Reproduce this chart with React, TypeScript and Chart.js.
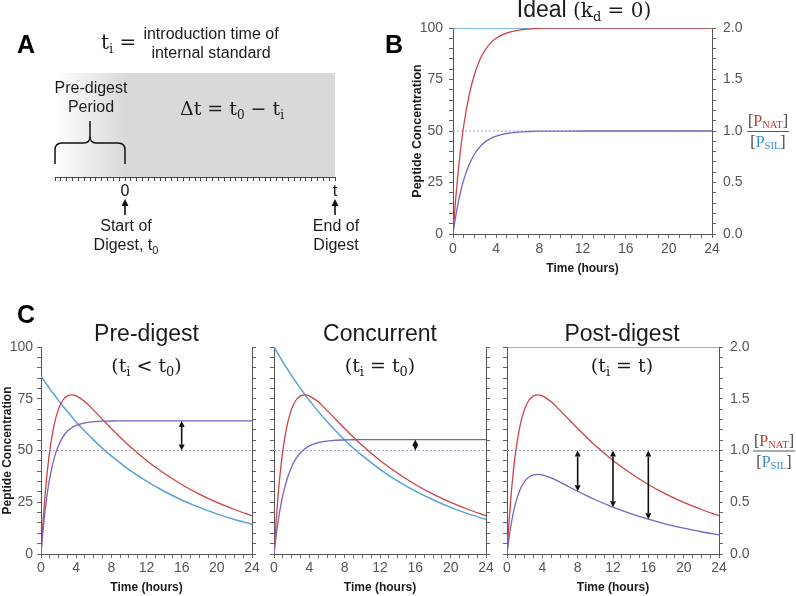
import React, { useEffect, useRef } from 'react';
import { Chart, registerables } from 'chart.js';
Chart.register(...registerables);

// ---------------- data ----------------
const times = [0, 0.25, 0.5, 0.75, 1, 1.5, 2, 2.5, 3, 3.5, 4, 5, 6, 7, 8, 9, 10, 12, 14, 16, 18, 20, 22, 24];

// Panel B (ideal, kd = 0)
const natIdeal = [0, 17.1, 31.3, 43.0, 52.8, 67.5, 77.7, 84.7, 89.5, 92.8, 95.0, 97.6, 98.9, 99.5, 99.8, 99.9, 99.9, 100, 100, 100, 100, 100, 100, 100];
const silIdeal = [100, 100, 100, 100, 100, 100, 100, 100, 100, 100, 100, 100, 100, 100, 100, 100, 100, 100, 100, 100, 100, 100, 100, 100];
const ratioIdeal = [0, 0.171, 0.313, 0.43, 0.528, 0.675, 0.777, 0.847, 0.895, 0.928, 0.95, 0.976, 0.989, 0.995, 0.998, 0.999, 0.999, 1, 1, 1, 1, 1, 1, 1];

// Panel C (digest with degradation)
const natDigest = [0, 16.6, 30.2, 41.1, 49.9, 62.5, 70.1, 74.4, 76.4, 76.9, 76.4, 73.5, 69.4, 65.0, 60.6, 56.4, 52.4, 45.2, 39.0, 33.6, 28.9, 24.9, 21.5, 18.5];
const silPre = [86, 84.4, 82.9, 81.3, 79.8, 76.9, 74.1, 71.4, 68.8, 66.3, 63.8, 59.3, 55.0, 51.0, 47.4, 44.0, 40.8, 35.2, 30.3, 26.1, 22.5, 19.4, 16.7, 14.4];
const silConcurrent = [100, 98.2, 96.3, 94.6, 92.8, 89.4, 86.2, 83.0, 80.0, 77.0, 74.2, 68.9, 64.0, 59.4, 55.1, 51.1, 47.5, 40.9, 35.2, 30.4, 26.2, 22.5, 19.4, 16.7];
const silPost = [100, 100, 100, 100, 100, 100, 100, 100, 100, 100, 100, 100, 100, 100, 100, 100, 100, 100, 100, 100, 100, 100, 100, 100];
const ratioPre = [0, 0.246, 0.445, 0.606, 0.736, 0.927, 1.051, 1.132, 1.186, 1.22, 1.243, 1.268, 1.278, 1.283, 1.285, 1.286, 1.286, 1.286, 1.286, 1.286, 1.286, 1.286, 1.286, 1.286];
const ratioConcurrent = [0, 0.182, 0.334, 0.462, 0.568, 0.73, 0.844, 0.923, 0.978, 1.017, 1.044, 1.076, 1.091, 1.099, 1.102, 1.104, 1.105, 1.106, 1.106, 1.106, 1.106, 1.106, 1.106, 1.106];
const ratioPost = [0, 0.166, 0.302, 0.411, 0.499, 0.625, 0.701, 0.744, 0.764, 0.769, 0.764, 0.735, 0.694, 0.65, 0.606, 0.564, 0.524, 0.452, 0.39, 0.336, 0.289, 0.249, 0.215, 0.185];
const ratioReference = [1, 1];
const referenceTimes = [0, 24];

// double-headed arrows (time, ratio at each end)
const arrowPreTimes = [16];
const arrowPreFrom = [1.286];
const arrowPreTo = [1.0];
const arrowConcTimes = [16];
const arrowConcFrom = [1.106];
const arrowConcTo = [1.0];
const arrowPostTimes = [8, 12, 16];
const arrowPostFrom = [1.0, 1.0, 1.0];
const arrowPostTo = [0.606, 0.452, 0.336];

// tick labels
const xMajorTicks = [0, 4, 8, 12, 16, 20, 24];
const yLeftMajor = [0, 25, 50, 75, 100];
const yRightMajor = [0, 0.5, 1, 1.5, 2];

// timeline (panel A)
const timelineMin = -12;
const timelineMax = 36;
const timelineLabelValues = [0, 36];
const timelineLabelTexts = ['0', 't'];

// ---------------- styles ----------------
const SANS = '"Liberation Sans", Arial, Helvetica, sans-serif';
const SERIF = '"DejaVu Serif", "Liberation Serif", serif';
const FSERIF = '"Liberation Serif", "DejaVu Serif", serif';
const RED = '#cf4242';
const BLUE = '#56a3d6';
const PURPLE = '#7b5fc2';
const DASH = '#a99dd4';
const TEXT = '#1c1c1c';
const TICK = '#555555';

Chart.defaults.font.family = SANS;

type Part = { t: string; f: string; c?: string; dy?: number };

function drawParts(ctx: CanvasRenderingContext2D, parts: Part[], x: number, y: number, align: 'center' | 'left' = 'center') {
  ctx.save();
  ctx.textAlign = 'left';
  ctx.textBaseline = 'alphabetic';
  let total = 0;
  for (const p of parts) {
    ctx.font = p.f;
    total += ctx.measureText(p.t).width;
  }
  let cx = align === 'center' ? x - total / 2 : x;
  for (const p of parts) {
    ctx.font = p.f;
    ctx.fillStyle = p.c || TEXT;
    ctx.fillText(p.t, cx, y + (p.dy || 0));
    cx += ctx.measureText(p.t).width;
  }
  ctx.restore();
  return total;
}

function drawArrow(ctx: CanvasRenderingContext2D, x: number, ya: number, yb: number) {
  const dir = yb > ya ? 1 : -1;
  const head = 6;
  const hw = 3;
  ctx.save();
  ctx.strokeStyle = '#111';
  ctx.fillStyle = '#111';
  ctx.lineWidth = 1.6;
  if (Math.abs(yb - ya) > 2 * head) {
    ctx.beginPath();
    ctx.moveTo(x, ya + dir * head);
    ctx.lineTo(x, yb - dir * head);
    ctx.stroke();
  }
  ctx.beginPath();
  ctx.moveTo(x, ya);
  ctx.lineTo(x - hw, ya + dir * head);
  ctx.lineTo(x + hw, ya + dir * head);
  ctx.closePath();
  ctx.fill();
  ctx.beginPath();
  ctx.moveTo(x, yb);
  ctx.lineTo(x - hw, yb - dir * head);
  ctx.lineTo(x + hw, yb - dir * head);
  ctx.closePath();
  ctx.fill();
  ctx.restore();
}

function drawFraction(ctx: CanvasRenderingContext2D, x: number, yLine: number) {
  const big = `16px ${FSERIF}`;
  const small = `10.5px ${FSERIF}`;
  const num: Part[] = [
    { t: '[', f: big, c: '#444' },
    { t: 'P', f: big, c: '#c23b34' },
    { t: 'NAT', f: small, c: '#c23b34', dy: 2 },
    { t: ']', f: big, c: '#444' },
  ];
  const den: Part[] = [
    { t: '[', f: big, c: '#444' },
    { t: 'P', f: big, c: '#3b8ccc' },
    { t: 'SIL', f: small, c: '#3b8ccc', dy: 2 },
    { t: ']', f: big, c: '#444' },
  ];
  const measure = (parts: Part[]) => {
    let w = 0;
    for (const p of parts) {
      ctx.font = p.f;
      w += ctx.measureText(p.t).width;
    }
    return w;
  };
  const w = Math.max(measure(num), measure(den)) + 2;
  drawParts(ctx, num, x + w / 2, yLine - 5);
  drawParts(ctx, den, x + w / 2, yLine + 16);
  ctx.save();
  ctx.strokeStyle = '#555';
  ctx.lineWidth = 1;
  ctx.beginPath();
  ctx.moveTo(x, yLine + 0.5);
  ctx.lineTo(x + w, yLine + 0.5);
  ctx.stroke();
  ctx.restore();
}

// ---------------- panel A (timeline) ----------------
function makeTimeline(canvas: HTMLCanvasElement) {
  const plugin = {
    id: 'timelineDecor',
    beforeDraw(chart: any) {
      const { ctx, chartArea: ca, scales } = chart;
      const x = scales.x;
      const x0 = x.getPixelForValue(timelineMin);
      const xz = x.getPixelForValue(0);
      const x1 = x.getPixelForValue(timelineMax);
      ctx.save();
      const g = ctx.createLinearGradient(x0, 0, xz, 0);
      g.addColorStop(0, '#ffffff');
      g.addColorStop(1, '#d9d9d9');
      ctx.fillStyle = g;
      ctx.fillRect(x0, ca.top, xz - x0, ca.bottom - ca.top);
      ctx.fillStyle = '#d9d9d9';
      ctx.fillRect(xz, ca.top, x1 - xz, ca.bottom - ca.top);
      ctx.restore();
    },
    afterDraw(chart: any) {
      const { ctx, scales } = chart;
      const x = scales.x;
      const L = x.getPixelForValue(timelineMin);
      const R = x.getPixelForValue(0);
      const M = (L + R) / 2;
      const E = x.getPixelForValue(timelineMax);
      const s16 = `16px ${SANS}`;
      // panel letter
      drawParts(ctx, [{ t: 'A', f: `bold 25px ${SANS}`, c: '#000' }], 17, 53, 'left');
      // definition
      drawParts(ctx, [
        { t: 't', f: `20px ${SERIF}` },
        { t: 'i', f: `13px ${SERIF}`, dy: 4 },
        { t: ' =', f: `20px ${SERIF}` },
      ], 101, 49, 'left');
      drawParts(ctx, [{ t: 'introduction time of', f: s16 }], 211, 39);
      drawParts(ctx, [{ t: 'internal standard', f: s16 }], 211, 58);
      // pre-digest label
      drawParts(ctx, [{ t: 'Pre-digest', f: s16 }], M + 1, 93);
      drawParts(ctx, [{ t: 'Period', f: s16 }], M + 1, 112);
      // delta t
      drawParts(ctx, [
        { t: 'Δt = t', f: `19px ${SERIF}` },
        { t: '0', f: `12px ${SERIF}`, dy: 4 },
        { t: ' − t', f: `19px ${SERIF}` },
        { t: 'i', f: `12px ${SERIF}`, dy: 4 },
      ], 232, 115);
      // brace
      ctx.save();
      ctx.strokeStyle = '#111';
      ctx.lineWidth = 1.5;
      ctx.beginPath();
      ctx.moveTo(L, 164);
      ctx.lineTo(L, 150);
      ctx.quadraticCurveTo(L, 143, L + 7, 143);
      ctx.lineTo(M - 6, 143);
      ctx.quadraticCurveTo(M, 143, M, 136);
      ctx.lineTo(M, 121);
      ctx.moveTo(M, 136);
      ctx.quadraticCurveTo(M, 143, M + 6, 143);
      ctx.lineTo(R - 7, 143);
      ctx.quadraticCurveTo(R, 143, R, 150);
      ctx.lineTo(R, 164);
      ctx.stroke();
      ctx.restore();
      // arrows below axis
      for (const ax of [R, E]) {
        ctx.save();
        ctx.strokeStyle = '#111';
        ctx.fillStyle = '#111';
        ctx.lineWidth = 1.6;
        ctx.beginPath();
        ctx.moveTo(ax, 215);
        ctx.lineTo(ax, 205);
        ctx.stroke();
        ctx.beginPath();
        ctx.moveTo(ax, 199);
        ctx.lineTo(ax - 3.5, 206);
        ctx.lineTo(ax + 3.5, 206);
        ctx.closePath();
        ctx.fill();
        ctx.restore();
      }
      drawParts(ctx, [{ t: 'Start of', f: s16 }], R + 1, 231);
      drawParts(ctx, [
        { t: 'Digest, t', f: s16 },
        { t: '0', f: `11px ${SANS}`, dy: 4 },
      ], R + 1, 250);
      drawParts(ctx, [{ t: 'End of', f: s16 }], E + 1, 231);
      drawParts(ctx, [{ t: 'Digest', f: s16 }], E + 1, 250);
    },
  };
  return new Chart(canvas, {
    type: 'line',
    data: { datasets: [] },
    options: {
      animation: false,
      responsive: false,
      events: [],
      layout: { padding: { left: 55, right: 45, top: 73, bottom: 0 } },
      plugins: { legend: { display: false }, tooltip: { enabled: false } },
      scales: {
        x: {
          type: 'linear',
          min: timelineMin,
          max: timelineMax,
          afterFit: (s: any) => { s.height = 113; },
          ticks: {
            stepSize: 1,
            autoSkip: false,
            maxRotation: 0,
            padding: 1,
            color: '#111',
            font: { size: 16, family: SANS },
            callback: (v: any) => {
              const i = timelineLabelValues.indexOf(Number(v));
              return i >= 0 ? timelineLabelTexts[i] : '';
            },
          },
          grid: { drawOnChartArea: false, tickLength: 4, color: '#444' },
          border: { color: '#444', width: 1 },
        },
        y: { display: false, min: 0, max: 1 },
      },
    },
    plugins: [plugin],
  } as any);
}

// ---------------- concentration panels ----------------
interface PanelCfg {
  nat: number[];
  sil: number[];
  ratio: number[];
  leftW: number;
  rightW: number;
  topPad: number;
  xH: number;
  leftLabels: boolean;
  rightLabels: boolean;
  leftTitle: boolean;
  leftTitleSize: number;
  leftTitlePad: number;
  xTitlePad: number;
  xLabelPad: number;
  yLabelPad: number;
  y1LabelPad: number;
  title: Part[];
  subtitle: Part[] | null;
  titleDx: number;
  titleY: number;
  subtitleY: number;
  arrowTimes: number[];
  arrowFrom: number[];
  arrowTo: number[];
  fraction: boolean;
  fractionDx: number;
  letter: { t: string; x: number; y: number } | null;
}

const pts = (xs: number[], ys: number[]) => xs.map((x, i) => ({ x, y: ys[i] }));

function makePanel(canvas: HTMLCanvasElement, c: PanelCfg) {
  const plugin = {
    id: 'panelDecor',
    afterDraw(chart: any) {
      const { ctx, chartArea: ca, scales } = chart;
      const cx = (ca.left + ca.right) / 2 + c.titleDx;
      drawParts(ctx, c.title, cx, c.titleY);
      if (c.subtitle) drawParts(ctx, c.subtitle, cx, c.subtitleY);
      for (let i = 0; i < c.arrowTimes.length; i++) {
        const x = scales.x.getPixelForValue(c.arrowTimes[i]);
        drawArrow(ctx, x, scales.y1.getPixelForValue(c.arrowFrom[i]), scales.y1.getPixelForValue(c.arrowTo[i]));
      }
      if (c.fraction) {
        drawFraction(ctx, ca.right + c.fractionDx, scales.y1.getPixelForValue(1));
      }
      if (c.letter) {
        drawParts(ctx, [{ t: c.letter.t, f: `bold 25px ${SANS}`, c: '#000' }], c.letter.x, c.letter.y, 'left');
      }
    },
  };
  const gridOpts = { drawOnChartArea: false, drawTicks: true, tickLength: 4, color: '#666' };
  const borderOpts = { display: true, color: '#555', width: 1 };
  const line = (data: any, color: string, axis: string, extra: any = {}) => ({
    data,
    borderColor: color,
    borderWidth: 1.3,
    pointRadius: 0,
    fill: false,
    cubicInterpolationMode: 'monotone',
    yAxisID: axis,
    ...extra,
  });
  return new Chart(canvas, {
    type: 'line',
    data: {
      datasets: [
        line(pts(times, c.ratio), PURPLE, 'y1'),
        line(pts(times, c.nat), RED, 'y'),
        line(pts(times, c.sil), BLUE, 'y', { borderWidth: 1.5 }),
        line(pts(referenceTimes, ratioReference), DASH, 'y1', { borderWidth: 1, borderDash: [2, 2] }),
      ],
    },
    options: {
      animation: false,
      responsive: false,
      events: [],
      layout: { padding: { top: c.topPad, left: 0, right: 0, bottom: 0 } },
      plugins: { legend: { display: false }, tooltip: { enabled: false } },
      scales: {
        x: {
          type: 'linear',
          min: 0,
          max: 24,
          afterFit: (s: any) => { s.height = c.xH; },
          ticks: {
            stepSize: 1,
            autoSkip: false,
            maxRotation: 0,
            padding: c.xLabelPad,
            color: TICK,
            font: { size: 14 },
            callback: (v: any) => (xMajorTicks.includes(Number(v)) ? String(v) : ''),
          },
          grid: gridOpts,
          border: borderOpts,
          title: {
            display: true,
            text: 'Time (hours)',
            color: TEXT,
            font: { size: 12, weight: 'bold' },
            padding: { top: 0, bottom: c.xTitlePad },
          },
        },
        y: {
          position: 'left',
          min: 0,
          max: 100,
          afterFit: (s: any) => { s.width = c.leftW; },
          ticks: {
            stepSize: 5,
            autoSkip: false,
            padding: c.yLabelPad,
            color: TICK,
            font: { size: 14 },
            callback: (v: any) => (c.leftLabels && yLeftMajor.includes(Number(v)) ? String(v) : ''),
          },
          grid: gridOpts,
          border: borderOpts,
          title: {
            display: c.leftTitle,
            text: 'Peptide Concentration',
            color: TEXT,
            font: { size: c.leftTitleSize, weight: 'bold' },
            padding: { top: c.leftTitlePad, bottom: 0 },
          },
        },
        y1: {
          position: 'right',
          min: 0,
          max: 2,
          afterFit: (s: any) => { s.width = c.rightW; },
          ticks: {
            stepSize: 0.1,
            autoSkip: false,
            padding: c.y1LabelPad,
            color: TICK,
            font: { size: 14 },
            callback: (v: any) => {
              const n = Number(v);
              return c.rightLabels && yRightMajor.some((m) => Math.abs(m - n) < 1e-6) ? n.toFixed(1) : '';
            },
          },
          grid: gridOpts,
          border: borderOpts,
        },
      },
    },
    plugins: [plugin],
  } as any);
}

const T23 = `23px ${SANS}`;
const M19 = `19px ${SERIF}`;
const M13 = `13px ${SERIF}`;

const cfgB: PanelCfg = {
  nat: natIdeal, sil: silIdeal, ratio: ratioIdeal,
  leftW: 73, rightW: 84, topPad: 28, xH: 56,
  leftLabels: true, rightLabels: true, leftTitle: true, leftTitleSize: 12.5, leftTitlePad: 30.5,
  xTitlePad: 13.8, xLabelPad: 3, yLabelPad: 6, y1LabelPad: 7,
  title: [
    { t: 'Ideal ', f: T23 },
    { t: '(k', f: `20px ${SERIF}` },
    { t: 'd', f: `13px ${SERIF}`, dy: 4 },
    { t: ' = 0)', f: `20px ${SERIF}` },
  ],
  subtitle: null, titleDx: 1.5, titleY: 17, subtitleY: 0,
  arrowTimes: [], arrowFrom: [], arrowTo: [],
  fraction: true, fractionDx: 35,
  letter: { t: 'B', x: 5, y: 53 },
};

const cfgPre: PanelCfg = {
  nat: natDigest, sil: silPre, ratio: ratioPre,
  leftW: 41, rightW: 13, topPad: 57, xH: 42,
  leftLabels: true, rightLabels: false, leftTitle: true, leftTitleSize: 12, leftTitlePad: 0,
  xTitlePad: 1, xLabelPad: 2, yLabelPad: 4, y1LabelPad: 7,
  title: [{ t: 'Pre-digest', f: T23 }],
  subtitle: [
    { t: '(t', f: M19 }, { t: 'i', f: M13, dy: 4 }, { t: ' < t', f: M19 }, { t: '0', f: M13, dy: 4 }, { t: ')', f: M19 },
  ],
  titleDx: 0, titleY: 51, subtitleY: 82,
  arrowTimes: arrowPreTimes, arrowFrom: arrowPreFrom, arrowTo: arrowPreTo,
  fraction: false, fractionDx: 0,
  letter: { t: 'C', x: 17, y: 33 },
};

const cfgConc: PanelCfg = {
  nat: natDigest, sil: silConcurrent, ratio: ratioConcurrent,
  leftW: 9, rightW: 12, topPad: 57, xH: 42,
  leftLabels: false, rightLabels: false, leftTitle: false, leftTitleSize: 12, leftTitlePad: 0,
  xTitlePad: 1, xLabelPad: 2, yLabelPad: 4, y1LabelPad: 7,
  title: [{ t: 'Concurrent', f: T23 }],
  subtitle: [
    { t: '(t', f: M19 }, { t: 'i', f: M13, dy: 4 }, { t: ' = t', f: M19 }, { t: '0', f: M13, dy: 4 }, { t: ')', f: M19 },
  ],
  titleDx: 0, titleY: 51, subtitleY: 82,
  arrowTimes: arrowConcTimes, arrowFrom: arrowConcFrom, arrowTo: arrowConcTo,
  fraction: false, fractionDx: 0,
  letter: null,
};

const cfgPost: PanelCfg = {
  nat: natDigest, sil: silPost, ratio: ratioPost,
  leftW: 9, rightW: 77, topPad: 57, xH: 42,
  leftLabels: false, rightLabels: true, leftTitle: false, leftTitleSize: 12, leftTitlePad: 0,
  xTitlePad: 1, xLabelPad: 2, yLabelPad: 4, y1LabelPad: 7,
  title: [{ t: 'Post-digest', f: T23 }],
  subtitle: [
    { t: '(t', f: M19 }, { t: 'i', f: M13, dy: 4 }, { t: ' = t)', f: M19 },
  ],
  titleDx: 9, titleY: 51, subtitleY: 82,
  arrowTimes: arrowPostTimes, arrowFrom: arrowPostFrom, arrowTo: arrowPostTo,
  fraction: true, fractionDx: 34,
  letter: null,
};

export default function App() {
  const aRef = useRef<HTMLCanvasElement>(null);
  const bRef = useRef<HTMLCanvasElement>(null);
  const c1Ref = useRef<HTMLCanvasElement>(null);
  const c2Ref = useRef<HTMLCanvasElement>(null);
  const c3Ref = useRef<HTMLCanvasElement>(null);

  useEffect(() => {
    const charts: Chart[] = [];
    if (aRef.current) charts.push(makeTimeline(aRef.current));
    if (bRef.current) charts.push(makePanel(bRef.current, cfgB));
    if (c1Ref.current) charts.push(makePanel(c1Ref.current, cfgPre));
    if (c2Ref.current) charts.push(makePanel(c2Ref.current, cfgConc));
    if (c3Ref.current) charts.push(makePanel(c3Ref.current, cfgPost));
    return () => charts.forEach((ch) => ch.destroy());
  }, []);

  const abs = (left: number, top: number, w: number, h: number): React.CSSProperties => ({
    position: 'absolute', left, top, width: w, height: h,
  });

  return (
    <div style={{ position: 'absolute', left: 0, top: 0, width: 796, height: 596, background: '#ffffff', overflow: 'hidden' }}>
      <canvas ref={aRef} width={380} height={290} style={abs(0, 0, 380, 290)} />
      <canvas ref={bRef} width={416} height={290} style={abs(380, 0, 416, 290)} />
      <canvas ref={c1Ref} width={265} height={306} style={abs(0, 290, 265, 306)} />
      <canvas ref={c2Ref} width={233} height={306} style={abs(265, 290, 233, 306)} />
      <canvas ref={c3Ref} width={298} height={306} style={abs(498, 290, 298, 306)} />
    </div>
  );
}
